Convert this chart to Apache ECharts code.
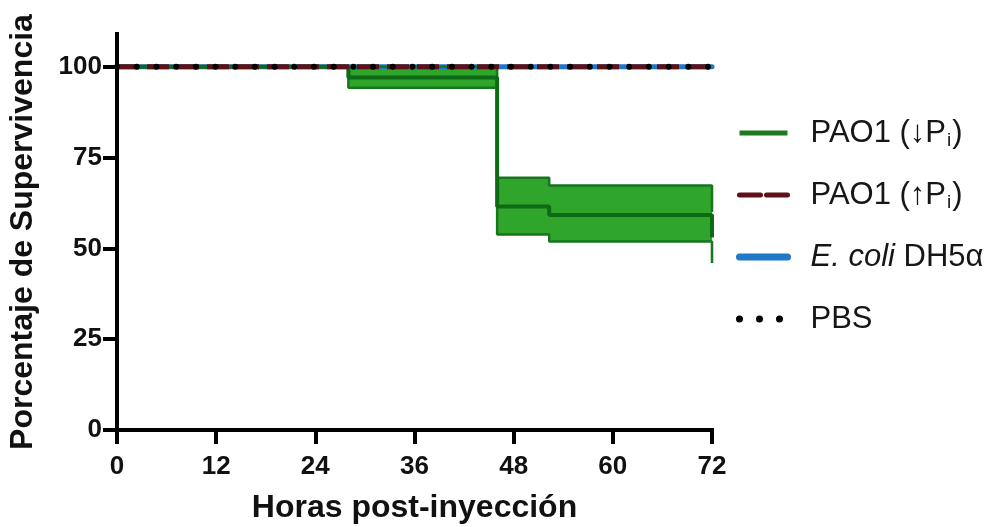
<!DOCTYPE html>
<html>
<head>
<meta charset="utf-8">
<script src="https://cdn.jsdelivr.net/npm/echarts@6/dist/echarts.min.js"></script>
<style>
  html, body { margin: 0; padding: 0; background: #fff; }
  #chart { width: 992px; height: 527px; }
</style>
</head>
<body>
<div id="chart"></div>
<script>
// Kaplan-Meier survival, hours post-injection
const hours = [0, 28, 46, 52.3, 72];
const pao1LowMean = [100, 97, 61.5, 59.2, 53];
const pao1LowUpper = [100, 100, 69.4, 67.3, 60];
const pao1LowLower = [100, 94.2, 53.8, 51.9, 46];

const flatHours = [0, 72];
const pao1High = [100, 100];
const ecoliDH5a = [100, 100];
const pbs = [100, 100];

const xTicks = [0, 12, 24, 36, 48, 60, 72];
const yTicks = [0, 25, 50, 75, 100];

const seriesNames = ['PAO1 (↓Pi)', 'PAO1 (↑Pi)', 'E. coli DH5α', 'PBS'];

const FONT = '"Liberation Sans", Arial, Helvetica, sans-serif';
const DARK_GREEN = '#0f6a16';
const EDGE_GREEN = '#16761c';
const FILL_GREEN = '#2fa52c';
const MAROON = '#5e1117';
const BLUE = '#1f78c8';

const pairs = (xs, ys) => xs.map((x, i) => [x, ys[i]]);
const noSymbol = { showSymbol: false, symbol: 'none', clip: false, silent: true };

const chart = echarts.init(document.getElementById('chart'), null, { renderer: 'canvas' });

chart.setOption({
  animation: false,
  backgroundColor: '#ffffff',
  grid: { left: 117, right: 280, top: 34, bottom: 97, containLabel: false, outerBoundsMode: 'none' },
  xAxis: {
    type: 'value',
    min: 0, max: 72, interval: 12,
    z: 10,
    name: 'Horas post-inyección',
    nameLocation: 'middle',
    nameGap: 62,
    nameTextStyle: { fontFamily: FONT, fontWeight: 'bold', fontSize: 32, color: '#111' },
    axisLine: { onZero: false, lineStyle: { color: '#000', width: 4, cap: 'square' } },
    axisTick: { show: true, length: 14, lineStyle: { color: '#000', width: 4 }, customValues: xTicks },
    axisLabel: { margin: 24, fontFamily: FONT, fontWeight: 'bold', fontSize: 26, color: '#111', customValues: xTicks },
    splitLine: { show: false }
  },
  yAxis: {
    type: 'value',
    min: 0, max: 109, interval: 25,
    z: 10,
    name: 'Porcentaje de Supervivencia',
    nameLocation: 'middle',
    nameRotate: 90,
    nameGap: 78,
    nameTextStyle: { fontFamily: FONT, fontWeight: 'bold', fontSize: 32, color: '#111' },
    axisLine: { show: true, lineStyle: { color: '#000', width: 4, cap: 'square' } },
    axisTick: { show: true, length: 14, lineStyle: { color: '#000', width: 4 }, customValues: yTicks },
    axisLabel: { margin: 15, fontFamily: FONT, fontWeight: 'bold', fontSize: 26, color: '#111', customValues: yTicks },
    splitLine: { show: false }
  },
  legend: {
    orient: 'vertical',
    left: 731,
    top: 111,
    itemWidth: 48,
    itemHeight: 14,
    itemGap: 28,
    data: [
      { name: seriesNames[0], itemStyle: { opacity: 0 }, lineStyle: { color: '#1d7a1f', width: 5, type: 'solid' } },
      { name: seriesNames[1], itemStyle: { opacity: 0 }, lineStyle: { color: MAROON, width: 5, type: [21, 6], cap: 'round' } },
      { name: seriesNames[2], itemStyle: { opacity: 0 }, lineStyle: { color: BLUE, width: 7, type: 'solid', cap: 'round' } },
      { name: seriesNames[3], itemStyle: { opacity: 0 }, lineStyle: { color: '#000', width: 7, type: [0, 20], cap: 'round' } }
    ],
    formatter: function (name) {
      if (name === seriesNames[0]) return '{n|PAO1 (↓P}{s|i}{n|)}';
      if (name === seriesNames[1]) return '{n|PAO1 (↑P}{s|i}{n|)}';
      if (name === seriesNames[2]) return '{it|E. coli}{n| DH5α}';
      return '{n|PBS}';
    },
    textStyle: {
      padding: [0, 0, 0, 18],
      fontFamily: FONT,
      fontSize: 31,
      color: '#161616',
      lineHeight: 34,
      rich: {
        n: { fontFamily: FONT, fontSize: 31, color: '#161616', lineHeight: 34 },
        it: { fontFamily: FONT, fontSize: 31, fontStyle: 'italic', color: '#161616', lineHeight: 34 },
        s: { fontFamily: FONT, fontSize: 19, color: '#161616', lineHeight: 34, verticalAlign: 'bottom', padding: [14, 1, 0, 1] }
      }
    }
  },
  series: [
    // confidence band: green fill up to the upper bound, cleared below the lower bound
    {
      name: 'band-upper-fill',
      type: 'line', step: 'end',
      data: pairs(hours, pao1LowUpper),
      ...noSymbol,
      lineStyle: { width: 0, opacity: 0 },
      areaStyle: { color: FILL_GREEN, opacity: 1, origin: 'start' },
      z: 1
    },
    {
      name: 'band-lower-clear',
      type: 'line', step: 'end',
      data: pairs(hours, pao1LowLower),
      ...noSymbol,
      lineStyle: { width: 0, opacity: 0 },
      areaStyle: { color: '#ffffff', opacity: 1, origin: 'start' },
      z: 1
    },
    {
      name: seriesNames[2],
      type: 'line',
      data: pairs(flatHours, ecoliDH5a),
      ...noSymbol,
      lineStyle: { color: BLUE, width: 5, cap: 'round' },
      itemStyle: { color: BLUE },
      z: 2
    },
    {
      name: 'band-upper-edge',
      type: 'line', step: 'end',
      data: pairs(hours, pao1LowUpper),
      ...noSymbol,
      lineStyle: { color: EDGE_GREEN, width: 2.5 },
      z: 3
    },
    {
      name: 'band-lower-edge',
      type: 'line', step: 'end',
      data: pairs(hours, pao1LowLower),
      ...noSymbol,
      lineStyle: { color: EDGE_GREEN, width: 2.5 },
      z: 3
    },
    {
      name: seriesNames[0],
      type: 'line', step: 'end',
      data: pairs(hours, pao1LowMean),
      ...noSymbol,
      lineStyle: { color: DARK_GREEN, width: 4 },
      itemStyle: { color: '#1d7a1f' },
      z: 4
    },
    {
      name: seriesNames[1],
      type: 'line',
      data: pairs(flatHours, pao1High),
      ...noSymbol,
      lineStyle: { color: MAROON, width: 5, type: [22, 8], cap: 'butt' },
      itemStyle: { color: MAROON },
      z: 5
    },
    {
      name: seriesNames[3],
      type: 'line',
      data: pairs(flatHours, pbs),
      ...noSymbol,
      lineStyle: { color: '#000', width: 6, type: [0, 19.7], cap: 'round' },
      itemStyle: { color: '#000' },
      z: 6
    }
  ]
});
</script>
</body>
</html>
